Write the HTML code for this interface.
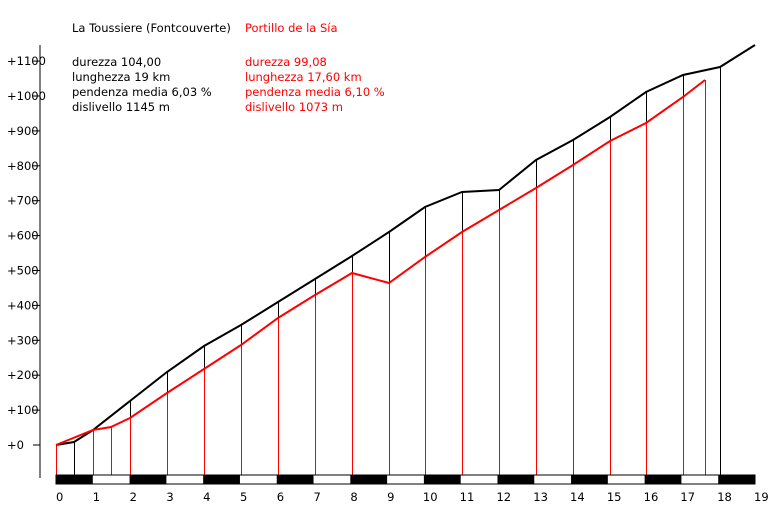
<!DOCTYPE html><html><head><style>body{margin:0;background:#fff}svg{display:block}text{font-family:"DejaVu Sans","Liberation Sans",sans-serif;font-size:11.5px}</style></head><body>
<svg width="784" height="513" xmlns="http://www.w3.org/2000/svg">
<text x="72" y="32">La Toussiere (Fontcouverte)</text>
<text x="245" y="32" fill="#f00">Portillo de la Sía</text>
<g><text x="72" y="66">durezza 104,00</text><text x="72" y="81">lunghezza 19 km</text><text x="72" y="96">pendenza media 6,03 %</text><text x="72" y="111">dislivello 1145 m</text></g>
<g fill="#f00"><text x="245" y="66">durezza 99,08</text><text x="245" y="81">lunghezza 17,60 km</text><text x="245" y="96">pendenza media 6,10 %</text><text x="245" y="111">dislivello 1073 m</text></g>
<line x1="40" y1="45" x2="40" y2="478" stroke="#000"/>
<g id="yl"></g>
<g stroke="#000" id="bv"></g><g stroke="#f00" id="rv"></g>
<polyline id="bp" fill="none" stroke="#000" stroke-width="2"/>
<polyline id="rp" fill="none" stroke="#f00" stroke-width="2"/>
<g id="bar"></g><g id="xl"></g>
<script>
var ns="http://www.w3.org/2000/svg";function el(t,a,p,tx){var e=document.createElementNS(ns,t);for(var k in a)e.setAttribute(k,a[k]);if(tx!=null)e.textContent=tx;document.getElementById(p).appendChild(e);}
for(var i=0;i<=11;i++){var y=445-i*34.9;el('text',{x:7,y:y+4},'yl','+'+i*100);el('line',{x1:33,y1:y,x2:40,y2:y,stroke:'#000'},'yl');}
var B=[[56,445],[74,442],[93,430],[130,401],[167,372],[204,346],[241,325],[278,302],[315,279],[352,256],[389,232],[425,207],[462,192],[499,190],[536,160],[573,140],[610,117],[646,92],[683,75],[720,67],[755,45]];
var R=[[56,445],[93,430],[111,427],[130,418],[167,393],[204,369],[241,345],[278,318],[315,295],[352,273],[389,283],[425,257],[462,232],[499,210],[536,188],[573,165],[610,141],[646,123],[683,97],[705,80]];
B.slice(0,-1).forEach(function(p){el('line',{x1:p[0]+.5,y1:p[1],x2:p[0]+.5,y2:475},'bv');});
R.forEach(function(p){el('line',{x1:p[0]+.5,y1:p[1],x2:p[0]+.5,y2:475},'rv');});
document.getElementById('bp').setAttribute('points',B.map(function(p){return p.join(',')}).join(' '));
document.getElementById('rp').setAttribute('points',R.map(function(p){return p.join(',')}).join(' '));
var s=(755-56)/19;
el('rect',{x:56,y:475,width:699,height:9,fill:'#fff',stroke:'#000'},'bar');
for(var k=0;k<19;k+=2)el('rect',{x:56+k*s,y:475,width:s,height:9,fill:'#000'},'bar');
for(var k=0;k<=19;k++)el('text',{x:56+k*s+(k>=10?-1:0),y:501},'xl',''+k);
</script>
</svg></body></html>
